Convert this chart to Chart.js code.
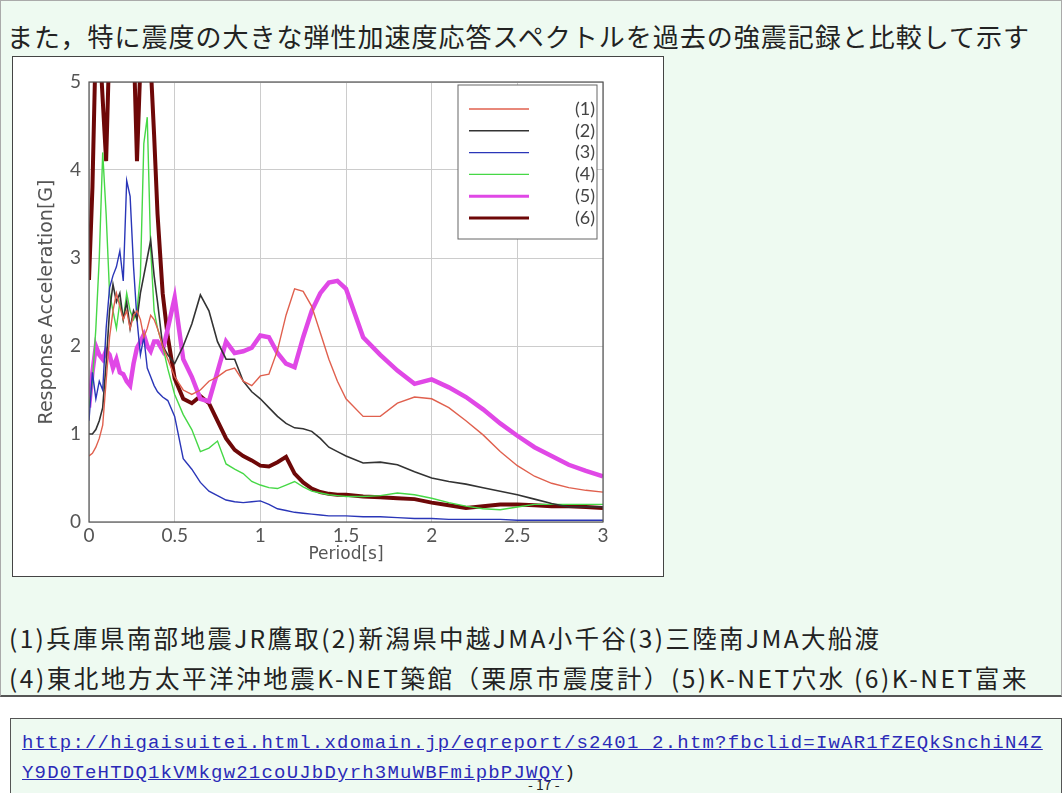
<!DOCTYPE html>
<html><head><meta charset="utf-8">
<script src="https://cdn.jsdelivr.net/npm/chart.js@4.4.0/dist/chart.umd.min.js"></script>
<style>
html,body{margin:0;padding:0;width:1062px;height:793px;overflow:hidden;background:#fff;font-family:"Noto Sans CJK JP",sans-serif;}
#top{position:absolute;left:0;top:0;width:1060px;height:694px;background:#eefaf1;border:1px solid #aaa;border-bottom:2px solid #555;}
#title{position:absolute;left:7px;top:17px;font-size:26px;color:#222;white-space:nowrap;letter-spacing:1.0px;}
#box{position:absolute;left:12px;top:56px;width:652px;height:521px;background:#fff;border:1px solid #444;box-sizing:border-box;}
#cv{position:absolute;left:12px;top:56px;}
.note{position:absolute;left:9px;font-size:24.5px;color:#222;white-space:nowrap;}
#url{position:absolute;left:10px;top:718px;width:1052px;height:80px;background:#eefaf1;border:1px solid #555;box-sizing:border-box;}
#urltxt{position:absolute;left:22px;top:728px;font-family:"Liberation Mono",monospace;font-size:19px;line-height:30px;color:#2b2bb8;letter-spacing:1.2px;white-space:nowrap;}
#urltxt a{color:#2b2bb8;text-decoration:underline;}
#pg{position:absolute;left:528px;top:774px;font-size:14px;color:#222;}
</style></head>
<body>
<div id="top"></div>
<div id="title">また，特に震度の大きな弾性加速度応答スペクトルを過去の強震記録と比較して示す</div>
<div id="box"></div>
<canvas id="cv" width="652" height="521"></canvas>
<div class="note" style="top:620px;letter-spacing:2.35px">(1)兵庫県南部地震JR鷹取(2)新潟県中越JMA小千谷(3)三陸南JMA大船渡</div>
<div class="note" style="top:660px;letter-spacing:2.55px">(4)東北地方太平洋沖地震K-NET築館（栗原市震度計）(5)K-NET穴水 (6)K-NET富来</div>
<div id="url"></div>
<div id="pg">- 17 -</div>
<div id="urltxt"><a>http://higaisuitei.html.xdomain.jp/eqreport/s2401_2.htm?fbclid=IwAR1fZEQkSnchiN4Z</a><br><a>Y9D0TeHTDQ1kVMkgw21coUJbDyrh3MuWBFmipbPJWQY</a><span style="color:#222">)</span></div>
<script>
const periods = [0,0.02,0.04,0.06,0.08,0.1,0.12,0.14,0.16,0.18,0.2,0.22,0.24,0.26,0.28,0.3,0.32,0.34,0.36,0.38,0.4,0.43,0.46,0.5,0.55,0.6,0.65,0.7,0.75,0.8,0.85,0.9,0.95,1.0,1.05,1.1,1.15,1.2,1.25,1.3,1.35,1.4,1.45,1.5,1.6,1.7,1.8,1.9,2.0,2.1,2.2,2.3,2.4,2.5,2.6,2.7,2.8,2.9,3.0];
const seriesLabels = ["(1)","(2)","(3)","(4)","(5)","(6)"];
const s1 = [0.75,0.78,0.85,0.95,1.1,1.6,2.1,2.4,2.6,2.45,2.3,2.4,2.2,2.35,2.4,2.3,2.1,2.2,2.35,2.3,2.2,2.0,1.85,1.65,1.5,1.45,1.5,1.6,1.65,1.72,1.75,1.6,1.55,1.66,1.68,1.95,2.35,2.65,2.62,2.45,2.15,1.85,1.6,1.4,1.2,1.2,1.35,1.42,1.4,1.3,1.15,0.99,0.8,0.64,0.52,0.44,0.39,0.36,0.34];
const s2 = [1.0,1.0,1.05,1.15,1.3,1.8,2.4,2.7,2.5,2.6,2.3,2.5,2.2,2.4,2.3,2.6,2.8,3.0,3.2,2.8,2.5,2.0,1.9,1.8,2.0,2.25,2.58,2.4,2.05,1.85,1.85,1.6,1.48,1.4,1.3,1.2,1.12,1.07,1.06,1.03,0.95,0.85,0.8,0.75,0.67,0.68,0.65,0.57,0.5,0.46,0.43,0.39,0.35,0.31,0.26,0.21,0.17,0.17,0.17];
const s3 = [1.15,1.7,1.4,1.6,1.5,2.2,2.66,2.8,2.9,3.08,2.74,3.88,3.7,2.9,2.3,1.9,2.1,1.75,1.65,1.55,1.48,1.42,1.38,1.2,0.72,0.6,0.45,0.35,0.3,0.25,0.23,0.22,0.23,0.24,0.2,0.15,0.13,0.11,0.1,0.09,0.08,0.07,0.07,0.07,0.06,0.06,0.05,0.04,0.04,0.03,0.03,0.03,0.03,0.02,0.02,0.02,0.02,0.02,0.02];
const s4 = [1.3,1.6,2.2,3.0,4.2,3.5,2.6,2.4,2.2,2.5,2.3,2.6,2.4,2.3,2.4,2.8,4.3,4.6,3.1,2.4,2.2,2.0,1.74,1.45,1.22,1.05,0.8,0.84,0.92,0.66,0.6,0.55,0.46,0.42,0.39,0.38,0.42,0.46,0.4,0.35,0.33,0.31,0.3,0.29,0.29,0.3,0.33,0.31,0.27,0.22,0.18,0.15,0.14,0.17,0.2,0.2,0.2,0.2,0.2];
const s5 = [1.3,1.7,2.0,1.9,1.85,1.95,1.9,1.75,1.85,1.7,1.68,1.6,1.55,1.8,1.98,2.05,2.13,2.0,1.94,2.05,2.05,1.95,2.2,2.55,1.85,1.65,1.4,1.37,1.71,2.05,1.92,1.94,1.98,2.12,2.1,1.92,1.8,1.76,2.1,2.4,2.6,2.72,2.74,2.65,2.1,1.9,1.72,1.57,1.62,1.53,1.42,1.28,1.12,0.98,0.85,0.75,0.65,0.58,0.52];
const s6 = [2.75,3.8,5.5,5.5,4.8,4.1,5.5,5.5,5.5,5.5,5.5,5.5,5.5,5.5,4.1,5.2,5.5,5.5,5.2,4.4,3.5,2.6,2.1,1.63,1.4,1.35,1.43,1.35,1.15,0.95,0.82,0.75,0.7,0.64,0.63,0.68,0.74,0.55,0.45,0.38,0.34,0.32,0.31,0.31,0.29,0.28,0.27,0.26,0.22,0.19,0.16,0.18,0.2,0.2,0.19,0.18,0.18,0.17,0.16];
const xTicks = [0,0.5,1,1.5,2,2.5,3];
const yTicks = [0,1,2,3,4,5];

const allSeries = [s1,s2,s3,s4,s5,s6];
const colors = ["#e0604e","#333333","#2a36b8","#46d846","#e048e6","#6e0808"];
const widths = [1.4,1.6,1.4,1.4,4.5,4];

const datasets = allSeries.map((vals,i)=>({
  label: seriesLabels[i],
  data: periods.map((p,j)=>({x:p,y:vals[j]})),
  borderColor: colors[i],
  borderWidth: widths[i],
  pointRadius: 0,
  tension: 0,
  fill: false
}));

const tickFont = {family:"Lato, 'DejaVu Sans', sans-serif", size:19};
const titleFontY = {family:"'DejaVu Sans', sans-serif", size:19};
const titleFontX = {family:"'DejaVu Sans', sans-serif", size:17};

const framePlugin = {
  id:'frame',
  afterDraw(chart){
    const {ctx, chartArea:a} = chart;
    ctx.save();
    ctx.strokeStyle = '#555'; ctx.lineWidth = 1.2;
    ctx.strokeRect(a.left, a.top, a.right-a.left, a.bottom-a.top);
    const bx = a.left + 369, by = a.top + 3, bw = 139, bh = 154;
    ctx.fillStyle = '#fff';
    ctx.fillRect(bx, by, bw, bh);
    ctx.strokeStyle = '#666'; ctx.lineWidth = 1;
    ctx.strokeRect(bx, by, bw, bh);
    chart.data.datasets.forEach((ds,i)=>{
      const y = by + 24 + i*21.8;
      ctx.strokeStyle = ds.borderColor;
      ctx.lineWidth = Math.min(ds.borderWidth, 3);
      ctx.beginPath(); ctx.moveTo(bx+11, y); ctx.lineTo(bx+71, y); ctx.stroke();
      ctx.fillStyle = '#444';
      ctx.font = "18px Lato, 'DejaVu Sans', sans-serif";
      ctx.textAlign = 'right'; ctx.textBaseline = 'middle';
      ctx.fillText(ds.label, bx+137, y);
    });
    ctx.restore();
  }
};

new Chart(document.getElementById('cv'), {
  type:'line',
  data:{datasets},
  options:{
    responsive:false,
    animation:false,
    layout:{padding:{left:24, top:26, right:61, bottom:12}},
    plugins:{legend:{display:false}, tooltip:{enabled:false}},
    scales:{
      x:{
        type:'linear', min:0, max:3,
        afterBuildTicks(s){ s.ticks = xTicks.map(v=>({value:v})); },
        afterFit(s){ s.height = 43; },
        grid:{color:'#cccccc', borderDash:[2,2], drawTicks:false},
        border:{display:false},
        ticks:{font:tickFont, color:'#555', padding:2, maxRotation:0, callback:v=>String(v)},
        title:{display:true, text:'Period[s]', font:titleFontX, color:'#555', padding:{top:0,bottom:0}}
      },
      y:{
        min:0, max:5,
        afterBuildTicks(s){ s.ticks = yTicks.map(v=>({value:v})); },
        afterFit(s){ s.width = 53; },
        grid:{color:'#cccccc', borderDash:[2,2], drawTicks:false},
        border:{display:false},
        ticks:{font:tickFont, color:'#555', padding:8},
        title:{display:true, text:'Response Acceleration[G]', font:titleFontY, color:'#555', padding:{top:0,bottom:0}}
      }
    }
  },
  plugins:[framePlugin]
});
</script>
</body></html>
